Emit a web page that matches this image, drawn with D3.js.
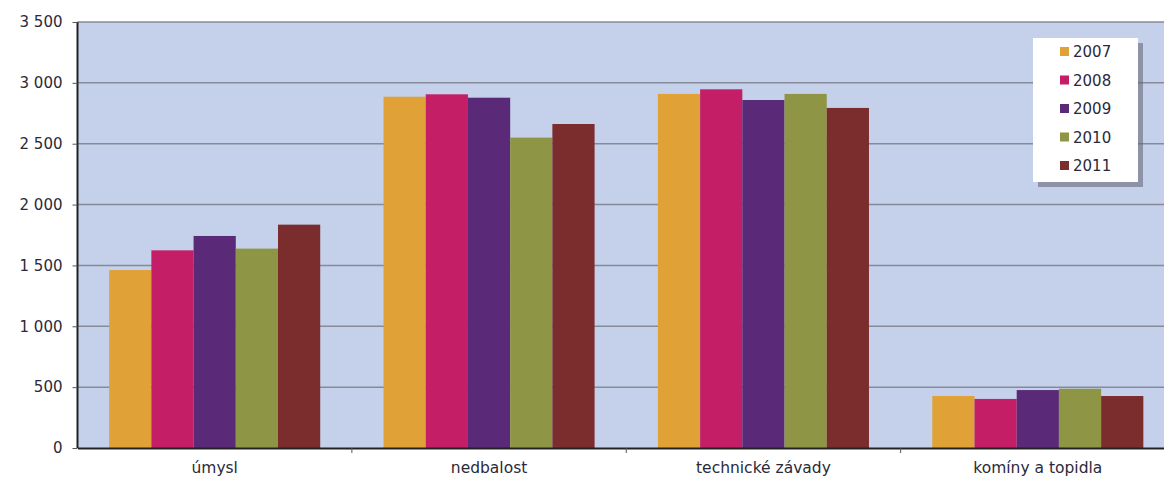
<!DOCTYPE html>
<html>
<head>
<meta charset="utf-8">
<script src="https://cdn.jsdelivr.net/npm/d3@7"></script>
<style>
  body { margin: 0; background: #fff; }
  svg { display: block; overflow: hidden; }
  text { font-family: "DejaVu Sans", sans-serif; fill: #2a2a3a; }
</style>
</head>
<body>
<div id="chart"></div>
<script>
// data
var categories = ["úmysl", "nedbalost", "technické závady", "komíny a topidla"];
var years = ["2007", "2008", "2009", "2010", "2011"];
var values2007 = [1462, 2886, 2909, 427];
var values2008 = [1624, 2906, 2947, 403];
var values2009 = [1742, 2878, 2859, 476];
var values2010 = [1638, 2550, 2909, 487];
var values2011 = [1835, 2662, 2794, 427];
var yTicks = [0, 500, 1000, 1500, 2000, 2500, 3000, 3500];
var colors = ["#e0a236", "#c41e66", "#5a2978", "#8e9645", "#7b2c2d"];

var series = [values2007, values2008, values2009, values2010, values2011];

var width = 1164, height = 479;
var margin = {left: 77.5, top: 22, bottom: 31};
var plotRight = 1175; // plot runs past the picture edge

var svg = d3.select("#chart").append("svg")
  .attr("width", width)
  .attr("height", height);

var x = d3.scaleBand()
  .domain(categories)
  .range([margin.left, plotRight])
  .paddingInner(0)
  .paddingOuter(0);

var xInner = d3.scaleBand()
  .domain(years)
  .range([0, x.bandwidth()])
  .paddingOuter(0.75)
  .paddingInner(0);

var y = d3.scaleLinear()
  .domain([0, 3500])
  .range([height - margin.bottom, margin.top]);

var fmt = d3.formatLocale({decimal: ",", thousands: " ", grouping: [3], currency: ["", ""]}).format(",d");

// plot background
svg.append("rect")
  .attr("x", margin.left)
  .attr("y", margin.top)
  .attr("width", plotRight - margin.left)
  .attr("height", y(0) - margin.top)
  .attr("fill", "#c5d0ea");

// gridlines
svg.append("g")
  .selectAll("line")
  .data(yTicks.filter(function(d) { return d > 0; }))
  .enter().append("line")
  .attr("x1", margin.left)
  .attr("x2", plotRight)
  .attr("y1", function(d) { return y(d); })
  .attr("y2", function(d) { return y(d); })
  .attr("stroke", "#858b99")
  .attr("stroke-width", 1.5);

// bars
var groups = svg.append("g")
  .selectAll("g")
  .data(series)
  .enter().append("g")
  .attr("fill", function(d, i) { return colors[i]; });

groups.selectAll("rect")
  .data(function(d, i) {
    return d.map(function(v, j) { return {cat: categories[j], year: years[i], value: v}; });
  })
  .enter().append("rect")
  .attr("x", function(d) { return x(d.cat) + xInner(d.year); })
  .attr("y", function(d) { return y(d.value); })
  .attr("width", xInner.bandwidth())
  .attr("height", function(d) { return y(0) - y(d.value); });

// y axis
var yAxis = svg.append("g")
  .attr("transform", "translate(" + margin.left + ",0)")
  .call(d3.axisLeft(y).tickValues(yTicks).tickFormat(fmt).tickSize(5).tickPadding(10));
yAxis.select(".domain").attr("stroke", "#222").attr("stroke-width", 2).attr("d", "M0," + margin.top + "V" + y(0));
yAxis.selectAll(".tick line").attr("stroke", "#555");
yAxis.selectAll("text").style("font-size", "15px").attr("fill", "#2a2a3a");

// x axis
var xAxis = svg.append("g")
  .attr("transform", "translate(0," + y(0) + ")")
  .call(d3.axisBottom(x).tickSize(0).tickPadding(14));
xAxis.select(".domain").attr("stroke", "#222").attr("stroke-width", 2);
xAxis.selectAll("text").style("font-size", "15.5px").attr("fill", "#2a2a3a");
xAxis.selectAll(".sep")
  .data(categories.slice(1))
  .enter().append("line")
  .attr("x1", function(d) { return x(d); })
  .attr("x2", function(d) { return x(d); })
  .attr("y1", 0)
  .attr("y2", 5)
  .attr("stroke", "#555");

// legend
var lx = 1033, ly = 38, lw = 105, lh = 144;
svg.append("rect")
  .attr("x", lx + 5).attr("y", ly + 5)
  .attr("width", lw).attr("height", lh)
  .attr("fill", "#5c6070")
  .attr("opacity", 0.55);
svg.append("rect")
  .attr("x", lx).attr("y", ly)
  .attr("width", lw).attr("height", lh)
  .attr("fill", "#fff");

var legend = svg.append("g")
  .selectAll("g")
  .data(years)
  .enter().append("g")
  .attr("transform", function(d, i) { return "translate(" + (lx + 27) + "," + (ly + 14 + i * 28.5) + ")"; });

legend.append("rect")
  .attr("y", -5)
  .attr("width", 9).attr("height", 9)
  .attr("fill", function(d, i) { return colors[i]; });

legend.append("text")
  .attr("x", 13)
  .attr("dy", "0.35em")
  .style("font-size", "15px")
  .text(function(d) { return d; });
</script>
</body>
</html>
